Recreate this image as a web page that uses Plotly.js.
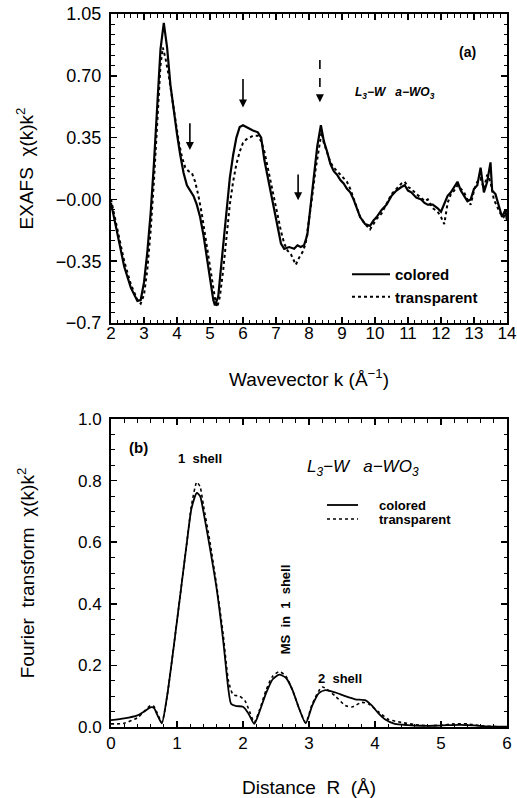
<!DOCTYPE html>
<html>
<head>
<meta charset="utf-8">
<script src="https://cdn.plot.ly/plotly-3.0.1.min.js"></script>
<style>html,body{margin:0;padding:0;background:#fff;}#chart{width:517px;height:798px;}</style>
</head>
<body>
<div id="chart"></div>
<script>
// ---------- Panel (a): EXAFS ----------
const kColored = [2.0,2.2,2.4,2.6,2.8,2.9,3.0,3.1,3.2,3.3,3.4,3.5,3.6,3.7,3.8,3.9,4.0,4.1,4.2,4.3,4.4,4.5,4.6,4.7,4.8,4.9,5.0,5.1,5.15,5.25,5.3,5.4,5.5,5.6,5.7,5.8,5.9,6.0,6.1,6.2,6.3,6.45,6.55,6.65,6.75,6.85,6.95,7.05,7.15,7.25,7.4,7.55,7.65,7.75,7.85,7.95,8.05,8.15,8.25,8.36,8.45,8.55,8.65,8.75,8.85,8.95,9.05,9.15,9.25,9.35,9.45,9.55,9.7,9.85,9.95,10.05,10.2,10.35,10.5,10.65,10.8,10.9,11.0,11.1,11.25,11.4,11.5,11.6,11.75,11.9,12.0,12.1,12.2,12.3,12.4,12.5,12.6,12.7,12.8,12.9,13.0,13.1,13.2,13.3,13.4,13.5,13.55,13.65,13.75,13.85,13.95,14.0];
const chiColored = [-0.02,-0.21,-0.38,-0.5,-0.575,-0.57,-0.47,-0.3,-0.08,0.2,0.55,0.85,1.0,0.86,0.65,0.5,0.37,0.25,0.15,0.08,0.05,0.02,-0.03,-0.1,-0.2,-0.33,-0.45,-0.57,-0.6,-0.55,-0.45,-0.25,-0.05,0.12,0.25,0.35,0.41,0.42,0.41,0.4,0.39,0.38,0.35,0.22,0.13,0.04,-0.07,-0.16,-0.25,-0.28,-0.27,-0.28,-0.26,-0.27,-0.26,-0.2,-0.02,0.15,0.3,0.42,0.33,0.27,0.2,0.16,0.14,0.11,0.09,0.06,0.04,0.0,-0.05,-0.1,-0.14,-0.15,-0.12,-0.1,-0.06,-0.03,0.02,0.05,0.07,0.08,0.05,0.04,0.01,0.0,-0.02,-0.03,-0.03,-0.05,-0.07,-0.02,0.02,0.04,0.07,0.1,0.05,0.02,-0.01,0.0,0.06,0.08,0.18,0.04,0.1,0.21,0.05,0.03,-0.03,-0.1,-0.06,-0.12];
const kTransparent = [2.0,2.2,2.4,2.6,2.8,2.9,3.0,3.1,3.2,3.3,3.4,3.5,3.57,3.65,3.75,3.85,3.95,4.05,4.15,4.25,4.35,4.45,4.55,4.65,4.75,4.85,4.95,5.05,5.15,5.22,5.3,5.4,5.5,5.6,5.7,5.8,5.9,6.0,6.1,6.2,6.3,6.45,6.55,6.65,6.75,6.85,6.95,7.05,7.15,7.25,7.35,7.45,7.55,7.6,7.7,7.8,7.9,8.0,8.1,8.2,8.3,8.38,8.45,8.55,8.65,8.75,8.85,8.95,9.05,9.15,9.25,9.35,9.45,9.55,9.7,9.85,9.95,10.05,10.2,10.35,10.5,10.65,10.8,10.9,11.0,11.1,11.25,11.4,11.5,11.6,11.75,11.9,12.0,12.1,12.2,12.3,12.4,12.5,12.6,12.7,12.8,12.9,13.0,13.1,13.2,13.3,13.4,13.5,13.6,13.7,13.8,13.9,14.0];
const chiTransparent = [0.0,-0.17,-0.35,-0.48,-0.57,-0.59,-0.54,-0.4,-0.18,0.1,0.45,0.76,0.86,0.8,0.7,0.58,0.45,0.33,0.24,0.18,0.16,0.15,0.1,0.02,-0.08,-0.2,-0.33,-0.45,-0.56,-0.61,-0.55,-0.4,-0.2,-0.03,0.1,0.2,0.27,0.32,0.34,0.35,0.36,0.36,0.33,0.27,0.18,0.1,0.0,-0.1,-0.18,-0.25,-0.29,-0.31,-0.35,-0.37,-0.33,-0.3,-0.25,-0.12,0.02,0.17,0.3,0.38,0.32,0.26,0.21,0.18,0.16,0.14,0.12,0.1,0.06,0.01,-0.05,-0.1,-0.14,-0.17,-0.14,-0.11,-0.08,-0.02,0.03,0.06,0.09,0.1,0.07,0.06,0.03,0.01,-0.01,0.0,-0.05,-0.07,-0.1,-0.14,-0.02,0.03,0.05,0.08,0.06,0.04,0.0,-0.03,0.05,0.1,0.12,0.06,0.14,0.1,0.0,-0.04,-0.08,-0.1,-0.06];
// tick labels of panel (a) y axis as printed in the figure
const chiTickAlias = {"\u22120.70":"\u22120.7", "0.00":"\u22120.00"};

// ---------- Panel (b): Fourier transform ----------
const rColored = [0.0,0.2,0.4,0.5,0.6,0.65,0.7,0.77,0.85,0.95,1.05,1.15,1.22,1.3,1.35,1.4,1.5,1.6,1.7,1.78,1.82,1.9,2.0,2.08,2.17,2.25,2.35,2.45,2.55,2.65,2.75,2.85,2.95,3.05,3.15,3.25,3.4,3.55,3.7,3.85,3.95,4.05,4.15,4.3,4.5,4.7,4.9,5.1,5.3,5.5,5.7,6.0];
const ftColored = [0.022,0.028,0.038,0.05,0.064,0.062,0.04,0.012,0.1,0.26,0.43,0.6,0.71,0.76,0.75,0.7,0.58,0.45,0.28,0.12,0.075,0.068,0.066,0.045,0.01,0.05,0.11,0.155,0.17,0.16,0.12,0.06,0.012,0.07,0.11,0.12,0.112,0.1,0.09,0.087,0.07,0.045,0.025,0.01,0.006,0.004,0.004,0.006,0.007,0.005,0.002,0.001];
const rTransparent = [0.0,0.2,0.4,0.5,0.6,0.65,0.7,0.77,0.85,0.95,1.05,1.15,1.22,1.3,1.35,1.4,1.5,1.6,1.7,1.78,1.85,1.95,2.03,2.1,2.17,2.25,2.35,2.45,2.55,2.65,2.75,2.85,2.95,3.05,3.2,3.4,3.55,3.65,3.8,3.9,4.05,4.2,4.4,4.6,4.8,5.0,5.2,5.4,5.6,6.0];
const ftTransparent = [0.01,0.012,0.03,0.05,0.07,0.067,0.045,0.015,0.1,0.26,0.43,0.6,0.72,0.795,0.78,0.72,0.6,0.46,0.3,0.15,0.105,0.1,0.085,0.05,0.015,0.055,0.12,0.165,0.18,0.165,0.12,0.06,0.015,0.075,0.13,0.1,0.07,0.065,0.08,0.075,0.05,0.025,0.015,0.008,0.004,0.006,0.01,0.01,0.004,0.0];

const seriesNames = ["colored", "transparent"];

const FONT = "'Liberation Sans', Arial, sans-serif";
const W = 517, H = 798;
const px = v => v / W;
const py = v => 1 - v / H;

const traces = [
  {x:kColored, y:chiColored, xaxis:'x', yaxis:'y', name:seriesNames[0], mode:'lines',
   line:{color:'#000', width:2.2}, legend:'legend'},
  {x:kTransparent, y:chiTransparent, xaxis:'x', yaxis:'y', name:seriesNames[1], mode:'lines',
   line:{color:'#000', width:2, dash:'dot'}, legend:'legend'},
  {x:rColored, y:ftColored, xaxis:'x2', yaxis:'y2', name:seriesNames[0], mode:'lines', showlegend:false,
   line:{color:'#000', width:1.8, shape:'spline', smoothing:0.6}},
  {x:rTransparent, y:ftTransparent, xaxis:'x2', yaxis:'y2', name:seriesNames[1], mode:'lines', showlegend:false,
   line:{color:'#000', width:1.6, dash:'dot', shape:'spline', smoothing:0.6}}
];

const minorCommon = {ticks:'inside', ticklen:3.5, tickwidth:1, tickcolor:'#000', showgrid:false};
const axisCommon = {
  showline:true, linecolor:'#000', linewidth:2, mirror:'allticks',
  ticks:'inside', ticklen:6, tickwidth:1.5, tickcolor:'#000',
  showgrid:false, zeroline:false, fixedrange:true,
  tickfont:{family:FONT, size:17, color:'#000'}
};
const titleFont = {family:FONT, size:19, color:'#000'};

const layout = {
  width:W, height:H,
  margin:{l:0, r:0, t:0, b:0},
  paper_bgcolor:'#fff', plot_bgcolor:'#fff',
  font:{family:FONT, color:'#000'},
  showlegend:true,
  xaxis: Object.assign({}, axisCommon, {
    domain:[px(111), px(507)], anchor:'y', range:[2,14],
    tickmode:'linear', tick0:2, dtick:1, ticklabelstandoff:-6,
    minor:Object.assign({dtick:0.2, tick0:2}, minorCommon),
    title:{text:'Wavevector k (Å<sup>\u22121</sup>)', font:titleFont, standoff:30}
  }),
  yaxis: Object.assign({}, axisCommon, {
    domain:[py(323), py(14)], anchor:'x', range:[-0.7,1.05],
    tickmode:'linear', tick0:-0.7, dtick:0.35, tickformat:'.2f', labelalias:chiTickAlias,
    tickfont:{family:FONT, size:18, color:'#000'}, ticklabelstandoff:4,
    minor:Object.assign({dtick:0.35/6, tick0:-0.7}, minorCommon),
    title:{text:'EXAFS\u00a0\u00a0\u03c7(k)k<sup>2</sup>', font:titleFont, standoff:17}
  }),
  xaxis2: Object.assign({}, axisCommon, {
    domain:[px(111), px(507)], anchor:'y2', range:[0,6],
    tickmode:'linear', tick0:0, dtick:1,
    minor:Object.assign({dtick:0.2, tick0:0}, minorCommon),
    title:{text:'Distance\u00a0 R\u00a0 (Å)', font:titleFont, standoff:28}
  }),
  yaxis2: Object.assign({}, axisCommon, {
    domain:[py(727), py(419)], anchor:'x2', range:[0,1.0],
    tickmode:'linear', tick0:0, dtick:0.2, tickformat:'.1f', ticklabelstandoff:4,
    minor:Object.assign({dtick:0.05, tick0:0}, minorCommon),
    title:{text:'Fourier\u00a0 transform\u00a0 \u03c7(k)k<sup>2</sup>', font:titleFont, standoff:38}
  }),
  legend:{x:px(347), y:py(258), xanchor:'left', yanchor:'top', bgcolor:'rgba(0,0,0,0)',
    font:{family:FONT, size:15, color:'#000', weight:'bold'}, tracegroupgap:0, itemwidth:38},
  annotations:[
    // panel (a) labels
    {xref:'x', yref:'y', x:12.79, y:0.836, text:'(a)', showarrow:false,
     font:{family:FONT, size:14, weight:'bold'}},
    {xref:'x', yref:'y', x:10.6, y:0.6, text:'<i>L<sub>3</sub>\u2212W\u00a0\u00a0\u00a0a\u2212WO<sub>3</sub></i>', showarrow:false,
     font:{family:FONT, size:12, weight:'bold'}},
    // arrows (a)
    {xref:'x', yref:'y', axref:'x', ayref:'y', x:4.39, y:0.28, ax:4.39, ay:0.44, text:'',
     showarrow:true, arrowhead:2, arrowsize:1, arrowwidth:1.6, arrowcolor:'#000'},
    {xref:'x', yref:'y', axref:'x', ayref:'y', x:6.0, y:0.52, ax:6.0, ay:0.69, text:'',
     showarrow:true, arrowhead:2, arrowsize:1, arrowwidth:1.6, arrowcolor:'#000'},
    {xref:'x', yref:'y', axref:'x', ayref:'y', x:7.67, y:-0.005, ax:7.67, ay:0.15, text:'',
     showarrow:true, arrowhead:2, arrowsize:1, arrowwidth:1.6, arrowcolor:'#000'},
    {xref:'x', yref:'y', axref:'x', ayref:'y', x:8.33, y:0.55, ax:8.33, ay:0.6, text:'',
     showarrow:true, arrowhead:2, arrowsize:1, arrowwidth:1.6, arrowcolor:'#000'},
    // panel (b) labels
    {xref:'x2', yref:'y2', x:0.42, y:0.909, text:'(b)', showarrow:false,
     font:{family:FONT, size:15, weight:'bold'}},
    {xref:'x2', yref:'y2', x:1.35, y:0.873, text:'1\u00a0 shell', showarrow:false,
     font:{family:FONT, size:13, weight:'bold'}},
    {xref:'x2', yref:'y2', x:2.64, y:0.383, text:'MS\u00a0 in\u00a0 1\u00a0 shell', showarrow:false, textangle:-90,
     font:{family:FONT, size:13, weight:'bold'}},
    {xref:'x2', yref:'y2', x:3.47, y:0.159, text:'2\u00a0 shell', showarrow:false,
     font:{family:FONT, size:13, weight:'bold'}},
    {xref:'x2', yref:'y2', x:3.82, y:0.841, text:'<i>L<sub>3</sub>\u2212W\u00a0\u00a0\u00a0a\u2212WO<sub>3</sub></i>', showarrow:false,
     font:{family:FONT, size:17}},
    // legend (b)
    {xref:'paper', yref:'paper', x:px(377), y:py(505), text:seriesNames[0], showarrow:false,
     xanchor:'left', yanchor:'middle', font:{family:FONT, size:13, weight:'bold'}},
    {xref:'paper', yref:'paper', x:px(377), y:py(519), text:seriesNames[1], showarrow:false,
     xanchor:'left', yanchor:'middle', font:{family:FONT, size:13, weight:'bold'}}
  ],
  shapes:[
    // dashed shaft of the dashed arrow in panel (a)
    {type:'line', xref:'x', yref:'y', x0:8.33, x1:8.33, y0:0.79, y1:0.58,
     line:{color:'#000', width:1.6, dash:'dash'}},
    // legend (b) samples
    {type:'line', xref:'paper', yref:'paper', x0:px(327), x1:px(358), y0:py(505), y1:py(505),
     line:{color:'#000', width:1.8}},
    {type:'line', xref:'paper', yref:'paper', x0:px(327), x1:px(358), y0:py(519), y1:py(519),
     line:{color:'#000', width:1.6, dash:'dot'}}
  ]
};

Plotly.newPlot('chart', traces, layout, {displayModeBar:false, staticPlot:true});
</script>
</body>
</html>
